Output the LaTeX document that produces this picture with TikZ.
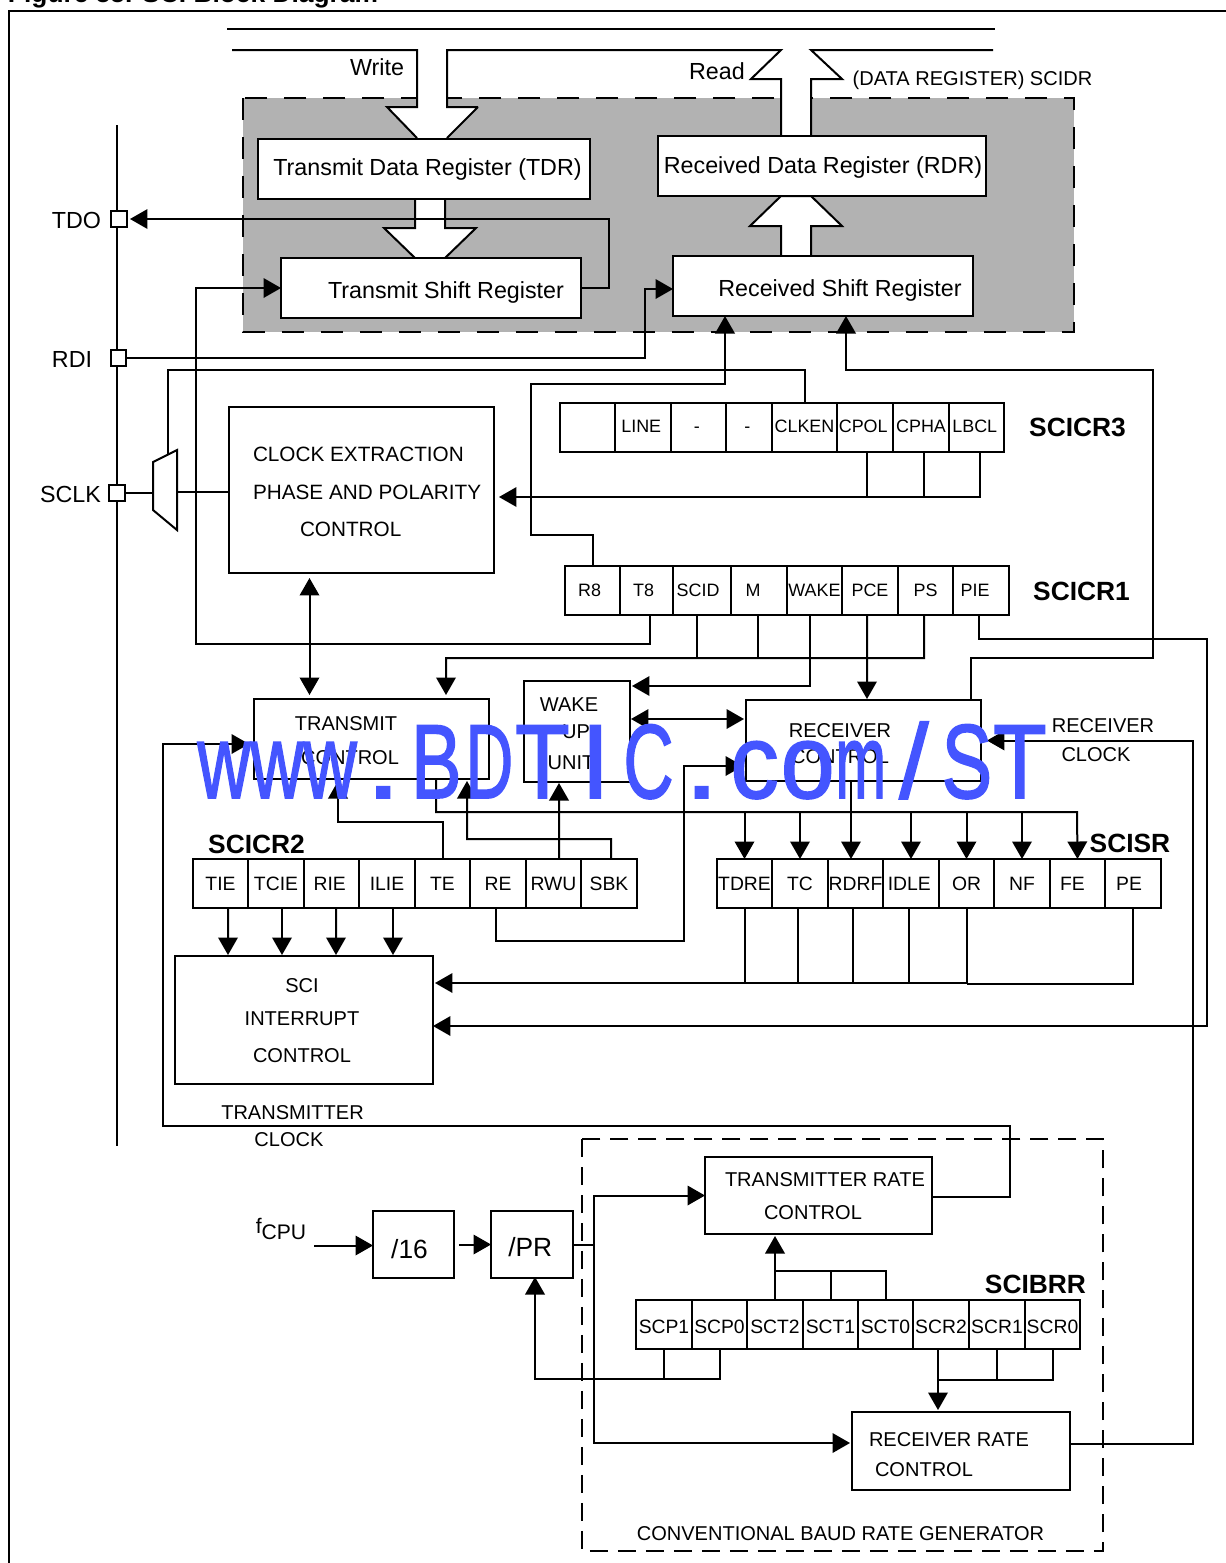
\documentclass[tikz,border=0pt]{standalone}
\usepackage{fontspec}
\setmainfont{Liberation Sans}
\newfontfamily\wmfont[FakeBold=1.6]{Liberation Sans}
\usetikzlibrary{calc,arrows.meta}
\definecolor{regGrey}{RGB}{178,178,178}
\definecolor{wmBlue}{RGB}{68,85,255}
\newcommand{\fs}[1]{\fontsize{#1}{#1}\selectfont}
\newcommand{\wm}[2]{\makebox[30.2pt]{\scalebox{#1}[1]{#2}}}
\tikzset{
myBlock/.style={
	draw, rectangle, fill=white, line width=0.4mm,
	inner sep=0pt, outer sep=0pt
}
, myCell/.style={
	draw, rectangle, fill=white, line width=0.4mm,
	inner sep=0pt, outer sep=0pt, minimum height=0.98cm
}
, myPad/.style={
	draw, rectangle, fill=white, line width=0.4mm,
	inner sep=0pt, outer sep=0pt, minimum size=0.32cm
}
, myText/.style={inner sep=0pt, outer sep=0pt, font=\fs{11.4pt}}
, myClockText/.style={inner sep=0pt, outer sep=0pt, font=\fs{11.8pt}}
, myBigText/.style={inner sep=0pt, outer sep=0pt, font=\fs{13.25pt}}
, myTitle/.style={inner sep=0pt, outer sep=0pt, font=\bfseries\fs{15pt}}
% link
, myLink/.style={line width=0.4mm}
, myArrow/.style={-{Triangle[length=3.5mm,width=3.9mm]},line width=0.4mm}
, myBoth/.style={{Triangle[length=3.5mm,width=3.9mm]}-{Triangle[length=3.5mm,width=3.9mm]},line width=0.4mm}
}
\begin{document}
\begin{tikzpicture}[x=0.02cm,y=-0.02cm]
	\useasboundingbox (0,0) rectangle (1226,1563);
	% frame
	\node[myTitle, anchor=base west] (FigTitle) at (8,2) {Figure 55. SCI Block Diagram};
	\draw[myLink] (1226,11) -- (9,11) -- (9,1563);
	\draw[myLink] (117,125) -- (117,1146);
	% data register area
	\draw[line width=0.4mm, fill=regGrey, dash pattern=on 4.4mm off 3.4mm] (243,98) rectangle (1074,332);
	\draw[myLink] (227,29) -- (995,29);
	\fill[white] (417,50) -- (417,107) -- (387,107) -- (417,138) -- (447,138) -- (478,107) -- (447,107) -- (447,50) -- cycle;
	\fill[white] (781,50) -- (751,79) -- (781,79) -- (781,136) -- (811,136) -- (811,79) -- (842,79) -- (811,50) -- cycle;
	\draw[myLink] (232,50) -- (417,50) -- (417,107) -- (387,107) -- (417,138);
	\draw[myLink] (478,107) -- (447,138) (478,107) -- (447,107) -- (447,50) -- (781,50) -- (751,79) -- (781,79) -- (781,136);
	\draw[myLink] (811,136) -- (811,79) -- (842,79) -- (811,50) -- (993,50);
	\draw[myLink, fill=white] (415,198) -- (415,228) -- (384,228) -- (415,258) -- (445,258) -- (476,228) -- (445,228) -- (445,198) -- cycle;
	\draw[myLink, fill=white] (781,256) -- (781,226) -- (750,226) -- (781,196) -- (811,196) -- (842,226) -- (811,226) -- (811,256) -- cycle;
	% registers of the data path
	\node[myBlock, minimum width=6.64cm, minimum height=1.2cm] (TDR) at (424,169) {};
	\node[myBlock, minimum width=6cm, minimum height=1.2cm] (TSR) at (431,288) {};
	\node[myBlock, minimum width=6.56cm, minimum height=1.2cm] (RDR) at (822,166) {};
	\node[myBlock, minimum width=6cm, minimum height=1.2cm] (RSR) at (823,286) {};
	\node[myBigText] (TDRText) at (427.5,169.5) {Transmit Data Register (TDR)};
	\node[myBigText] (TSRText) at (446,292) {Transmit Shift Register};
	\node[myBigText] (RDRText) at (823,167) {Received Data Register (RDR)};
	\node[myBigText] (RSRText) at (840,290) {Received Shift Register};
	\node[myBigText] (WriteText) at (377,67) {Write};
	\node[myBigText] (ReadText) at (717,71) {Read};
	\node[myText] (SCIDRText) at (972.5,80) {(DATA REGISTER) SCIDR};
	% pins
	\node[myPad] (TDOPad) at (119,219) {};
	\node[myPad] (RDIPad) at (118.5,358) {};
	\node[myPad] (SCLKPad) at (117,493) {};
	\node[myBigText] (TDOText) at (76.5,220) {TDO};
	\node[myBigText] (RDIText) at (72,359) {RDI};
	\node[myBigText] (SCLKText) at (70.5,494) {SCLK};
	% clock selector
	\draw[myLink, fill=white] (153,462) -- (177,450) -- (177,530) -- (153,510) -- cycle;
	\coordinate (MuxIn) at (153,493);
	\coordinate (MuxOut) at (177,492);
	\coordinate (MuxTop) at (168,455);
	% control blocks
	\node[myBlock, minimum width=5.3cm, minimum height=3.32cm] (ClockBox) at (361.5,490) {};
	\node[myClockText, anchor=west] (ClockTextA) at (253,454) {CLOCK EXTRACTION};
	\node[myClockText, anchor=west] (ClockTextB) at (253,492) {PHASE AND POLARITY};
	\node[myClockText, anchor=west] (ClockTextC) at (300,529) {CONTROL};
	\node[myBlock, minimum width=4.7cm, minimum height=1.6cm] (TxControl) at (371.5,739) {};
	\node[myText] (TxTextA) at (346,724) {TRANSMIT};
	\node[myText] (TxTextB) at (350,758) {CONTROL};
	\node[myBlock, minimum width=2.12cm, minimum height=2.02cm] (WakeUnit) at (577,731.5) {};
	\node[myText] (WakeTextA) at (569,705) {WAKE};
	\node[myText] (WakeTextB) at (576,732) {UP};
	\node[myText] (WakeTextC) at (571,763) {UNIT};
	\node[myBlock, minimum width=4.7cm, minimum height=1.62cm] (RxControl) at (863.5,740.5) {};
	\node[myText] (RxTextA) at (840,731) {RECEIVER};
	\node[myText] (RxTextB) at (840,757) {CONTROL};
	\node[myBlock, minimum width=5.16cm, minimum height=2.56cm] (SciInt) at (304,1020) {};
	\node[myText] (SciTextA) at (302,986) {SCI};
	\node[myText] (SciTextB) at (302,1019) {INTERRUPT};
	\node[myText] (SciTextC) at (302,1056) {CONTROL};
	\node[myText] (RxClkA) at (1103,726) {RECEIVER};
	\node[myText] (RxClkB) at (1096,755) {CLOCK};
	\node[myText] (TxClkA) at (292.5,1113) {TRANSMITTER};
	\node[myText] (TxClkB) at (289,1140) {CLOCK};
	% control registers
	\foreach \Name/\Left/\Right/\Text in {R3a/560/615/{},R3line/615/671/{LINE\kern2pt},R3b/671/726/{-\kern2pt},R3c/726/772/{-\kern2pt},R3clken/772/837/CLKEN,R3cpol/837/893/{CPOL\kern2pt},R3cpha/893/949/CPHA,R3lbcl/949/1004/{LBCL\kern2pt}}
		\node[myCell, font=\fs{10.2pt}, minimum width={(\Right-\Left)*0.02cm}] (\Name) at ({(\Left+\Right)/2},427.5) {\raisebox{-2.65pt}[0pt][0pt]{\Text}};
	\foreach \Name/\Left/\Right/\Text in {R1r8/565/620/{R8\kern3.4pt},R1t8/620/673/{T8\kern3.4pt},R1scid/673/731/{SCID\kern4.5pt},R1m/731/787/{M\kern6.8pt},R1wake/787/842/WAKE,R1pce/842/898/PCE,R1ps/898/953/PS,R1pie/953/1009/{PIE\kern6.8pt}}
		\node[myCell, font=\fs{10.2pt}, minimum width={(\Right-\Left)*0.02cm}] (\Name) at ({(\Left+\Right)/2},590.5) {\Text};
	\foreach \Name/\Left/\Right/\Text in {R2tie/193/248/TIE,R2tcie/248/304/TCIE,R2rie/304/359/{RIE\kern2pt},R2ilie/359/415/ILIE,R2te/415/470/TE,R2re/470/526/RE,R2rwu/526/581/RWU,R2sbk/581/637/SBK}
		\node[myCell, font=\fs{11pt}, minimum width={(\Right-\Left)*0.02cm}] (\Name) at ({(\Left+\Right)/2},883.5) {\Text};
	\foreach \Name/\Left/\Right/\Text in {SRtdre/717/772/TDRE,SRtc/772/828/TC,SRrdrf/828/883/RDRF,SRidle/883/939/{IDLE\kern2pt},SRor/939/994/OR,SRnf/994/1050/NF,SRfe/1050/1105/{FE\kern5.7pt},SRpe/1105/1161/{PE\kern4.5pt}}
		\node[myCell, font=\fs{11pt}, minimum width={(\Right-\Left)*0.02cm}] (\Name) at ({(\Left+\Right)/2},883.5) {\Text};
	\foreach \Name/\Left/\Right/\Text in {BRscpa/636/692/SCP1,BRscpb/692/747/SCP0,BRscta/747/803/SCT2,BRsctb/803/858/SCT1,BRsctc/858/913/SCT0,BRscra/913/969/SCR2,BRscrb/969/1025/SCR1,BRscrc/1025/1080/SCR0}
		\node[myCell, font=\fs{11pt}, minimum width={(\Right-\Left)*0.02cm}] (\Name) at ({(\Left+\Right)/2},1324.5) {\raisebox{-5pt}[0pt][0pt]{\Text}};
	\node[myTitle] (R3Name) at (1077.5,427) {SCICR3};
	\node[myTitle] (R1Name) at (1081.5,591) {SCICR1};
	\node[myTitle] (R2Name) at (256.5,844) {SCICR2};
	\node[myTitle] (SRName) at (1130,843) {SCISR};
	\node[myTitle] (BRName) at (1035.5,1284) {SCIBRR};
	% baud rate generator
	\draw[line width=0.4mm, dash pattern=on 3.6mm off 2mm] (582,1139) rectangle (1103,1551);
	\node[myText] (BaudText) at (840.5,1534) {CONVENTIONAL BAUD RATE GENERATOR};
	\node[myBlock, minimum width=4.54cm, minimum height=1.54cm] (TxRate) at (818.5,1195.5) {};
	\node[myText, anchor=west] (TxRateA) at (725,1180) {TRANSMITTER RATE};
	\node[myText, anchor=west] (TxRateB) at (764,1213) {CONTROL};
	\node[myBlock, minimum width=4.36cm, minimum height=1.56cm] (RxRate) at (961,1451) {};
	\node[myText, anchor=west] (RxRateA) at (869,1440) {RECEIVER RATE};
	\node[myText, anchor=west] (RxRateB) at (875,1470) {CONTROL};
	\node[myBlock, font=\fs{15pt}, minimum width=1.62cm, minimum height=1.34cm] (DivSixteen) at (413.5,1244.5) {\raisebox{-8pt}[0pt][0pt]{/16\kern4.5pt}};
	\node[myBlock, font=\fs{15pt}, minimum width=1.64cm, minimum height=1.34cm] (DivPR) at (532,1244.5) {\raisebox{-6.8pt}[0pt][0pt]{/PR\kern2pt}};
	\node[myText, font=\fs{12pt}] (CPUText) at (281,1229) {f\raisebox{-0.5ex}{CPU}};
	\coordinate (CPUIn) at (314,1245.5);
	\coordinate (PRJoin) at (594,1244.5);
	% links of the data path
	\draw[myArrow] (TSR.east) -- ++(28,0) |- ($(TDOPad.east)+(3,0)$);
	\draw[myArrow] (RDIPad.east) -| (645,320) |- ($(RSR.west)+(0,3)$);
	\draw[myArrow] ($(R1t8.south)+(3.5,0)$) |- (196,644) |- (TSR.west);
	\draw[myLink] (SCLKPad.east) -- (MuxIn);
	\draw[myLink] (MuxOut) -- (ClockBox.west |- MuxOut);
	\draw[myLink] (R3clken.north) |- (168,370) -- (MuxTop);
	\draw[myArrow] (R1r8.north) |- (531,535) |- (725,384) -- ($(RSR.south)+(-98,0)$);
	\draw[myArrow] ($(RxControl.north)+(107.5,0)$) |- (1153,658) |- (846,370) -- ($(RSR.south)+(23,0)$);
	\draw[myBoth] ($(ClockBox.south)+(-52,5)$) -- ($(TxControl.north)+(-62,-4)$);
	% SCICR3
	\draw[myArrow] ($(R3lbcl.south)+(3.5,0)$) |- ($(ClockBox.east)+(5,7)$);
	\draw[myLink] ($(R3cpol.south)+(2,0)$) -- ++(0,45);
	\draw[myLink] ($(R3cpha.south)+(3,0)$) -- ++(0,45);
	% SCICR1
	\draw[myArrow] ($(R1ps.south)+(-1.5,0)$) |- (446,658) -- ($(TxControl.north)+(74.5,-4)$);
	\draw[myLink] ($(R1scid.south)+(-5,0)$) -- ++(0,43);
	\draw[myLink] ($(R1m.south)+(-1,0)$) -- ++(0,43);
	\draw[myArrow] ($(R1wake.south)+(-4.5,0)$) |- ($(WakeUnit.east)+(2,-45.5)$);
	\draw[myArrow] ($(R1pce.south)+(-3,0)$) -- ($(RxControl.north)+(3.5,-1)$);
	\draw[myArrow] ($(R1pie.south)+(-2,0)$) |- (1207,639) |- ($(SciInt.east)+(0,6)$);
	\draw[myBoth] ($(WakeUnit.east)+(1,-12.5)$) -- ($(RxControl.west)+(-2,-21.5)$);
	% SCICR2
	\draw[myArrow] (R2te.north) |- (338,822) -- ($(TxControl.south)+(-33.5,2)$);
	\draw[myArrow] ($(R2sbk.north)+(2,0)$) |- (467,839) -- ($(TxControl.south)+(95.5,2)$);
	\draw[myArrow] ($(R2rwu.north)+(5.5,0)$) -- ($(WakeUnit.south)+(-18,1)$);
	\draw[myArrow] ($(R2re.south)+(-2,0)$) |- (684,941) |- ($(RxControl.west)+(-3,25.5)$);
	\draw[myArrow] ($(R2tie.south)+(7.5,0)$) -- ($(SciInt.north)+(-76,-1)$);
	\draw[myArrow] ($(R2tcie.south)+(6,0)$) -- ($(SciInt.north)+(-22,-1)$);
	\draw[myArrow] ($(R2rie.south)+(4.5,0)$) -- ($(SciInt.north)+(32,-1)$);
	\draw[myArrow] ($(R2ilie.south)+(6,0)$) -- ($(SciInt.north)+(89,-1)$);
	% SCISR
	\coordinate (SRBus) at (436,812);
	\coordinate (SRJoin) at (967,984);
	\draw[myArrow] ($(TxControl.south)+(64.5,0)$) |- (1077,812) -- (SRfe.north);
	\draw[myArrow] (SRBus -| SRtdre.north) -- (SRtdre.north);
	\draw[myArrow] (SRBus -| SRtc.north) -- (SRtc.north);
	\draw[myArrow] ($(RxControl.south)+(-12.5,0)$) -- ($(SRrdrf.north)+(-4.5,0)$);
	\draw[myArrow] (SRBus -| SRidle.north) -- (SRidle.north);
	\draw[myArrow] (SRBus -| SRor.north) -- (SRor.north);
	\draw[myArrow] (SRBus -| SRnf.north) -- (SRnf.north);
	\draw[myArrow] (SRJoin |- SRor.south) |- ($(SciInt.east)+(2,-37)$);
	\draw[myLink] (SRJoin) -| (SRpe.south);
	\draw[myLink] (SRtdre.south) -- ++(0,75);
	\draw[myLink] ($(SRtc.south)+(-2,0)$) -- ++(0,75);
	\draw[myLink] ($(SRrdrf.south)+(-2.5,0)$) -- ++(0,75);
	\draw[myLink] ($(SRidle.south)+(-2,0)$) -- ++(0,75);
	% clocks
	\draw[myArrow] ($(TxRate.east)+(0,1.5)$) -| (1010,1126) -| (163,800) |- ($(TxControl.west)+(-5,5)$);
	\draw[myArrow] ($(RxRate.east)+(0,-7)$) -| (1193,900) |- ($(RxControl.east)+(6,0)$);
	\draw[myArrow] (CPUIn) -- (DivSixteen.west |- CPUIn);
	\draw[myArrow] ($(DivSixteen.east)+(5,0)$) -- (DivPR.west);
	\draw[myLink] (DivPR.east) -- (PRJoin);
	\draw[myArrow] (PRJoin) |- (TxRate.west);
	\draw[myArrow] (PRJoin) |- ($(RxRate.west)+(-2,-8)$);
	% SCIBRR
	\draw[myArrow] (BRscpb.south) |- (535,1379) -- ($(DivPR.south)+(3,-1)$);
	\draw[myLink] (BRscpa.south) -- ++(0,30);
	\draw[myArrow] (BRscta.north) -- ($(TxRate.south)+(-43.5,2)$);
	\draw[myLink] (BRsctc.north) |- (775,1271);
	\draw[myLink] (BRsctb.north) -- ++(0,-29);
	\draw[myArrow] ($(BRscra.south)+(-3,0)$) -- ($(RxRate.north)+(-23,-2)$);
	\draw[myLink] (BRscrc.south) |- (938,1380);
	\draw[myLink] (BRscrb.south) -- ++(0,31);
	% overlay
	\node[text=wmBlue, inner sep=0pt, anchor=base, font=\wmfont\fontsize{60pt}{60pt}\selectfont] (WaterMark) at (622,798) {\wm{.7}{w}\wm{.7}{w}\wm{.7}{w}\wm{1.2}{.}\wm{.72}{B}\wm{.63}{D}\wm{.85}{T}\wm{1}{I}\wm{.66}{C}\wm{1.2}{.}\wm{.92}{c}\wm{.92}{o}\wm{.58}{m}\wm{1}{/}\wm{.72}{S}\wm{.83}{T}};
\end{tikzpicture}
\end{document}
